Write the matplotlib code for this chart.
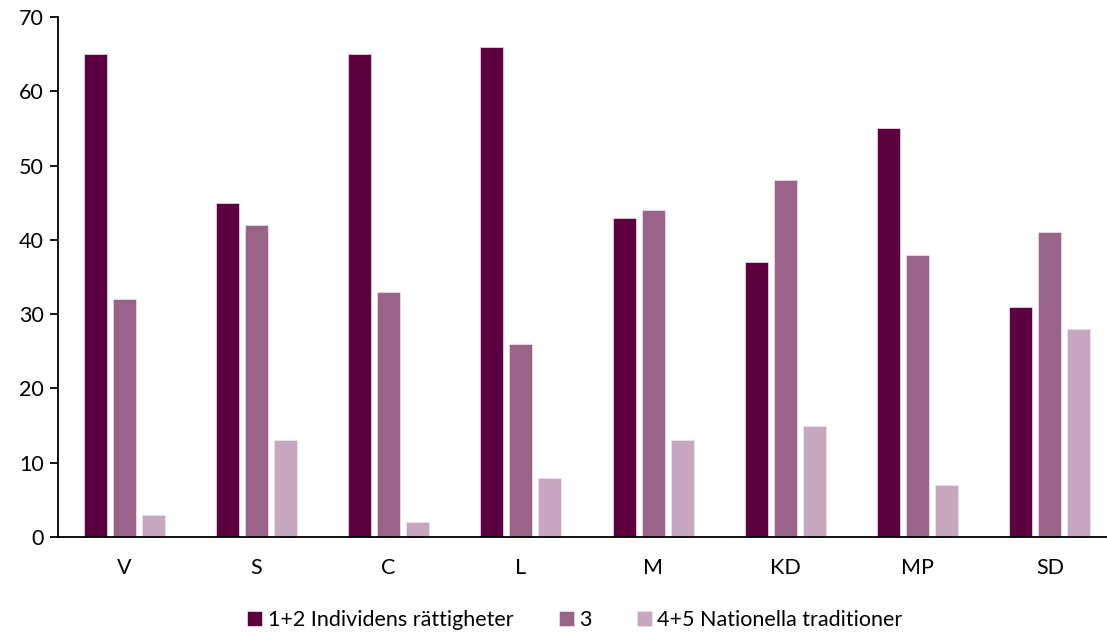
import matplotlib
matplotlib.use('Agg')
import matplotlib.pyplot as plt
import numpy as np

partier = ['V', 'S', 'C', 'L', 'M', 'KD', 'MP', 'SD']
serier = ['1+2 Individens rättigheter', '3', '4+5 Nationella traditioner']
individ = [65, 45, 65, 66, 43, 37, 55, 31]
mitten = [32, 42, 33, 26, 44, 48, 38, 41]
nationell = [3, 13, 2, 8, 13, 15, 7, 28]
farger = ['#5C0040', '#9A6489', '#C7A6BF']

plt.rcParams['font.family'] = ['Lato', 'DejaVu Sans']

fig = plt.figure(figsize=(11.07, 6.32), dpi=100)
ax = fig.add_axes([58/1107, 95/632, 1058/1107, 520/632])

x = np.arange(len(partier))
bredd = 0.174
steg = 0.219
for i, (vals, namn) in enumerate(zip([individ, mitten, nationell], serier)):
    ax.bar(x + (i - 1) * steg, vals, bredd, color=farger[i], label=namn,
           edgecolor='#F2E6EE', linewidth=0.5)

ax.set_xlim(-0.5, len(partier) - 0.5)
ax.set_ylim(0, 70)
ax.set_yticks(range(0, 71, 10))
ax.set_xticks(x)
ax.set_xticklabels(partier)
ax.tick_params(axis='x', length=0, pad=15, labelsize=15.5)
ax.tick_params(axis='y', length=6, width=1.3, direction='out', labelsize=15.5, pad=4)
for s in ['top', 'right']:
    ax.spines[s].set_visible(False)
ax.spines['left'].set_linewidth(1.3)
ax.spines['bottom'].set_linewidth(1.3)

fig.legend(loc='lower center', bbox_to_anchor=(575/1107, -0.028), ncol=3,
           frameon=False, fontsize=15.5, handlelength=0.7, handleheight=0.7,
           handletextpad=0.25, columnspacing=2.1)

fig.savefig('out.png', dpi=100)
